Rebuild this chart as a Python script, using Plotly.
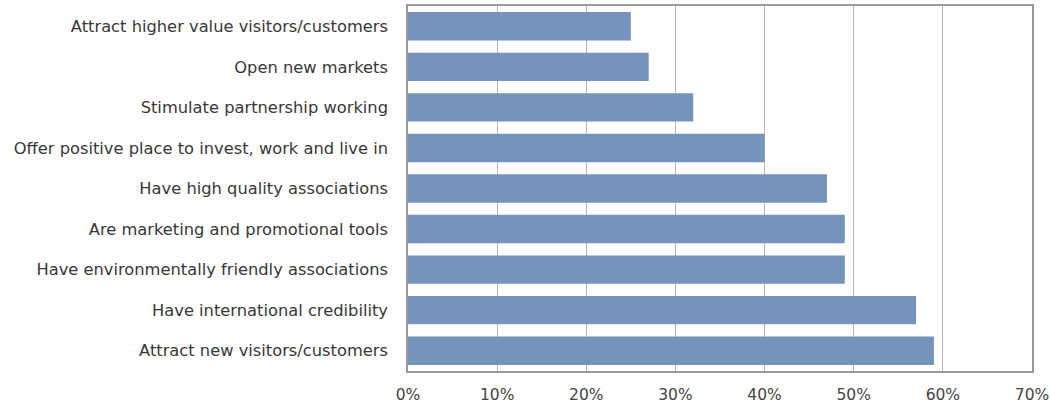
import plotly.graph_objects as go

# Survey responses, listed top to bottom
categories = [
    "Attract higher value visitors/customers",
    "Open new markets",
    "Stimulate partnership working",
    "Offer positive place to invest, work and live in",
    "Have high quality associations",
    "Are marketing and promotional tools",
    "Have environmentally friendly associations",
    "Have international credibility",
    "Attract new visitors/customers",
]
values = [25, 27, 32, 40, 47, 49, 49, 57, 59]
tick_vals = [0, 10, 20, 30, 40, 50, 60, 70]
tick_text = ["0%", "10%", "20%", "30%", "40%", "50%", "60%", "70%"]

fig = go.Figure(
    go.Bar(
        y=categories,
        x=values,
        orientation="h",
        marker=dict(color="#7694BB", line=dict(width=0)),
        width=0.7,
    )
)

fig.update_layout(
    width=1050,
    height=408,
    margin=dict(l=408, r=18, t=6, b=37),
    paper_bgcolor="white",
    plot_bgcolor="white",
    font=dict(family="DejaVu Sans, sans-serif", size=16, color="#383838"),
    showlegend=False,
    bargap=0.3,
)

fig.update_xaxes(
    range=[0, 70],
    tickvals=tick_vals,
    ticktext=tick_text,
    showgrid=True,
    gridcolor="#b5b5b5",
    gridwidth=1.2,
    zeroline=False,
    showline=True,
    linecolor="#9a9a9a",
    linewidth=1.5,
    mirror=True,
    ticks="",
    automargin=False,
    ticklabelstandoff=9,
    tickfont=dict(size=15.5, color="#444444"),
)

fig.update_yaxes(
    autorange="reversed",
    showgrid=False,
    zeroline=False,
    showline=True,
    linecolor="#9a9a9a",
    linewidth=1.5,
    mirror=True,
    ticks="",
    automargin=False,
    ticklabelstandoff=15,
    tickfont=dict(size=16.3, color="#383838"),
)

fig.write_html("out.html")
